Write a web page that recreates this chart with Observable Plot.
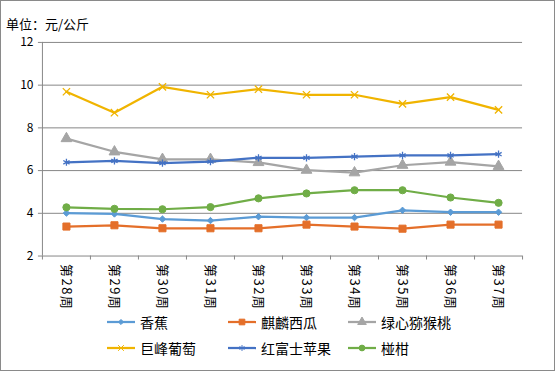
<!DOCTYPE html>
<html>
<head>
<meta charset="utf-8">
<script src="https://cdn.jsdelivr.net/npm/d3@7"></script>
<script src="https://cdn.jsdelivr.net/npm/@observablehq/plot@0.6"></script>
<style>
  body { margin: 0; background: #fff; font-family: "Noto Sans CJK SC", "Noto Sans", sans-serif; }
  #wrap { position: relative; width: 555px; height: 371px; box-sizing: border-box; border: 1px solid #8a8a8a; overflow: hidden; }
  #title { position: absolute; left: 5px; top: 15px; font-size: 13px; color: #000; line-height: 16px; }
  #chart { position: absolute; left: -1px; top: -1px; }
  .leg { position: absolute; display: flex; align-items: center; font-size: 14px; color: #000; line-height: 16px; }
  .leg svg { margin-right: 4px; }
  .xlab text { letter-spacing: 1.5px; }
</style>
</head>
<body>
<div id="wrap">
  <div id="title">单位：元/公斤</div>
  <div id="chart"></div>
</div>
<script>
const weeks = ["第28周","第29周","第30周","第31周","第32周","第33周","第34周","第35周","第36周","第37周"];
const seriesNames = ["香蕉","麒麟西瓜","绿心猕猴桃","巨峰葡萄","红富士苹果","椪柑"];
const banana     = [4.01, 3.97, 3.73, 3.66, 3.84, 3.80, 3.80, 4.14, 4.05, 4.05];
const watermelon = [3.38, 3.44, 3.30, 3.30, 3.30, 3.47, 3.38, 3.28, 3.47, 3.47];
const kiwi       = [7.50, 6.88, 6.53, 6.53, 6.38, 6.02, 5.90, 6.25, 6.40, 6.20];
const grape      = [9.69, 8.71, 9.92, 9.55, 9.81, 9.55, 9.55, 9.12, 9.44, 8.84];
const apple      = [6.39, 6.45, 6.35, 6.42, 6.60, 6.60, 6.65, 6.71, 6.71, 6.77];
const tangerine  = [4.28, 4.21, 4.19, 4.29, 4.70, 4.93, 5.08, 5.08, 4.74, 4.49];
const yTicks = [2, 4, 6, 8, 10, 12];
const yGrid = [4, 6, 8, 10, 12];

const styles = [
  {color: "#5B9BD5", symbol: "diamond2", r: 2.9, fill: true},
  {color: "#E46F2A", symbol: "square", r: 4.0, fill: true},
  {color: "#A5A5A5", symbol: "triangle", r: 4.0, fill: true},
  {color: "#F0B400", symbol: "times", r: 3.4, fill: false},
  {color: "#4472C4", symbol: "asterisk", r: 3.4, fill: false},
  {color: "#70AD47", symbol: "circle", r: 3.6, fill: true}
];
const seriesValues = [banana, watermelon, kiwi, grape, apple, tangerine];
const rows = seriesValues.map((vals, s) => vals.map((v, i) => ({week: weeks[i], i: i + 0.5, v, s})));

const gridColor = "#878787";
const marks = [
  Plot.ruleY(yGrid, {stroke: gridColor, strokeWidth: 1}),
  Plot.ruleY([yTicks[0]], {stroke: gridColor, strokeWidth: 1}),
  Plot.ruleX([0], {stroke: gridColor, strokeWidth: 1}),
  Plot.axisY({ticks: yTicks, tickSize: 4, tickPadding: 5, stroke: gridColor, fill: "#000", fontSize: 12, label: null}),
  Plot.axisX({ticks: d3.range(weeks.length + 1), tickSize: 4, stroke: gridColor, tickFormat: () => "", label: null}),
  Plot.text(weeks, {x: (d, i) => i + 0.5, frameAnchor: "bottom", dy: 8, rotate: 90, textAnchor: "start", lineAnchor: "middle", fontSize: 13, fill: "#000", text: d => d, className: "xlab"})
];
rows.forEach((data, s) => {
  const st = styles[s];
  marks.push(Plot.line(data, {x: "i", y: "v", stroke: st.color, strokeWidth: 2.25}));
  marks.push(Plot.dot(data, {x: "i", y: "v", symbol: () => st.symbol, r: st.r, stroke: st.color, strokeWidth: st.fill ? 1 : 1.3, fill: st.fill ? st.color : "none"}));
});

const plot = Plot.plot({
  width: 555,
  height: 300,
  marginTop: 42,
  marginBottom: 44,
  marginLeft: 42,
  marginRight: 32,
  style: {fontFamily: "'Noto Sans CJK SC', sans-serif", fontSize: "12px", background: "transparent", overflow: "visible"},
  x: {type: "linear", domain: [0, weeks.length], axis: null},
  y: {domain: [yTicks[0], yTicks[yTicks.length - 1]], axis: null},
  symbol: {type: "identity"},
  marks
});
document.getElementById("chart").appendChild(plot);

// Legend
const wrap = document.getElementById("wrap");
const legPos = [[106, 314], [227, 314], [347, 314], [106, 340], [227, 340], [347, 340]];
seriesNames.forEach((name, s) => {
  const st = styles[s];
  const div = document.createElement("div");
  div.className = "leg";
  div.style.left = (legPos[s][0] - 1) + "px";
  div.style.top = (legPos[s][1] - 1) + "px";
  const svg = d3.create("svg").attr("width", 30).attr("height", 16);
  svg.append("line").attr("x1", 1).attr("x2", 29).attr("y1", 8).attr("y2", 8).attr("stroke", st.color).attr("stroke-width", 2.25);
  const symMap = {diamond2: d3.symbolDiamond2, square: d3.symbolSquare, triangle: d3.symbolTriangle, times: d3.symbolTimes, asterisk: d3.symbolAsterisk, circle: d3.symbolCircle};
  const rr = st.r * 0.8;
  svg.append("path").attr("transform", "translate(15,8)")
    .attr("d", d3.symbol(symMap[st.symbol], Math.PI * rr * rr)())
    .attr("fill", st.fill ? st.color : "none").attr("stroke", st.color).attr("stroke-width", 1);
  div.appendChild(svg.node());
  const span = document.createElement("span");
  span.textContent = name;
  div.appendChild(span);
  wrap.appendChild(div);
});
</script>
</body>
</html>
